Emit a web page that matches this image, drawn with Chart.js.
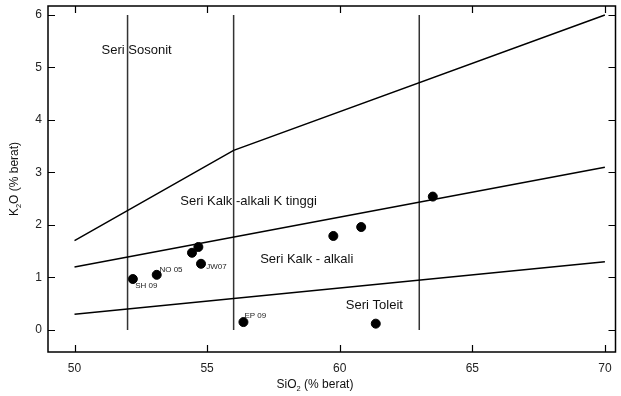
<!DOCTYPE html>
<html>
<head>
<meta charset="utf-8">
<script src="https://cdn.jsdelivr.net/npm/chart.js@4"></script>
<style>
  body { margin: 0; background: #fff; }
  #wrap { width: 621px; height: 396px; }
</style>
</head>
<body>
<div id="wrap"><canvas id="myChart"></canvas></div>
<script>
// samples
const sio2 = [52.2, 53.1, 54.43, 54.67, 54.77, 56.37, 59.76, 60.81, 63.51, 61.36]
const k2o = [0.97, 1.05, 1.47, 1.58, 1.26, 0.15, 1.79, 1.96, 2.54, 0.12]
const sampleNames = ['SH 09', 'NO 05', '', '', 'JW07', 'EP 09', '', '', '', '']

// series boundaries
const shoshX = [50, 56, 70]
const shoshY = [1.7, 3.42, 6.0]
const highKX = [50, 70]
const highKY = [1.2, 3.1]
const tholX = [50, 70]
const tholY = [0.3, 1.3]
const dividerX = [52, 56, 63]
const dividerY = [0, 6]

// ticks
const xTicks = [50, 55, 60, 65, 70]
const yTicks = [0, 1, 2, 3, 4, 5, 6]

// field names
const fieldNames = ['Seri Sosonit', 'Seri Kalk -alkali K tinggi', 'Seri Kalk - alkali', 'Seri Toleit']
const fieldX = [51.02, 53.99, 57.0, 60.23]
const fieldY = [5.26, 2.38, 1.28, 0.39]

// pixel offsets of sample names from their dot
const nameOffsets = { 'SH 09': [2.4, 9.3], 'NO 05': [2.7, -3], 'JW07': [5.3, 5.3], 'EP 09': [1, -4] }

const FONT = '"Liberation Sans", Arial, sans-serif'

function pts(xs, ys) {
    return xs.map((x, i) => ({ x: x, y: ys[i] }))
}

function lineSet(data, color) {
    return {
        type: 'scatter',
        data: data,
        showLine: true,
        borderColor: color,
        borderWidth: 1.5,
        pointRadius: 0,
        fill: false
    }
}

let datasets = [
    lineSet(pts(shoshX, shoshY), '#000'),
    lineSet(pts(highKX, highKY), '#000'),
    lineSet(pts(tholX, tholY), '#000')
]
dividerX.forEach(x => {
    datasets.push(lineSet(pts([x, x], dividerY), '#333'))
})
datasets.push({
    type: 'scatter',
    data: pts(sio2, k2o),
    backgroundColor: '#000',
    borderColor: '#000',
    pointRadius: 4.5,
    pointHoverRadius: 4.5
})

// text with a subscript "2"
function drawSub(ctx, parts, size, x, y) {
    let subSize = size * 0.62
    let w = 0
    parts.forEach(p => {
        ctx.font = (p.sub ? subSize : size) + 'px ' + FONT
        w += ctx.measureText(p.t).width
    })
    let cx = x - w / 2
    parts.forEach(p => {
        ctx.font = (p.sub ? subSize : size) + 'px ' + FONT
        ctx.fillText(p.t, cx, p.sub ? y + size * 0.25 : y)
        cx += ctx.measureText(p.t).width
    })
}

const frame = {
    id: 'frame',
    afterDraw(chart) {
        let ctx = chart.ctx
        let a = chart.chartArea
        let xs = chart.scales.x
        let ys = chart.scales.y
        ctx.save()
        ctx.strokeStyle = '#000'
        ctx.lineWidth = 1.5
        ctx.strokeRect(a.left, a.top, a.right - a.left, a.bottom - a.top)
        ctx.lineWidth = 1.2
        ctx.beginPath()
        xTicks.forEach(v => {
            let px = Math.round(xs.getPixelForValue(v)) + 0.5
            ctx.moveTo(px, a.bottom); ctx.lineTo(px, a.bottom - 7)
            ctx.moveTo(px, a.top); ctx.lineTo(px, a.top + 7)
        })
        yTicks.forEach(v => {
            let py = Math.round(ys.getPixelForValue(v)) + 0.5
            ctx.moveTo(a.left, py); ctx.lineTo(a.left + 7, py)
            ctx.moveTo(a.right, py); ctx.lineTo(a.right - 7, py)
        })
        ctx.stroke()

        ctx.fillStyle = '#111'
        ctx.textBaseline = 'alphabetic'
        ctx.textAlign = 'left'
        ctx.font = '13px ' + FONT
        fieldNames.forEach((t, i) => {
            ctx.fillText(t, xs.getPixelForValue(fieldX[i]), ys.getPixelForValue(fieldY[i]))
        })

        ctx.font = '8px ' + FONT
        ctx.fillStyle = '#222'
        sampleNames.forEach((t, i) => {
            if (!t) return
            let off = nameOffsets[t]
            ctx.fillText(t, xs.getPixelForValue(sio2[i]) + off[0], ys.getPixelForValue(k2o[i]) + off[1])
        })

        ctx.fillStyle = '#111'
        drawSub(ctx, [{ t: 'SiO' }, { t: '2', sub: true }, { t: ' (% berat)' }], 12, 315, 388)
        ctx.translate(18, (a.top + a.bottom) / 2)
        ctx.rotate(-Math.PI / 2)
        drawSub(ctx, [{ t: 'K' }, { t: '2', sub: true }, { t: 'O (% berat)' }], 12, 0, 0)
        ctx.restore()
    }
}

let ctx = document.querySelector('#myChart').getContext('2d')
let myChart = new Chart(ctx, {
    type: 'scatter',
    data: { datasets: datasets },
    options: {
        responsive: true,
        maintainAspectRatio: false,
        animation: false,
        layout: { padding: { top: 6, right: 4, left: 0, bottom: 0 } },
        plugins: {
            legend: { display: false },
            tooltip: { enabled: false }
        },
        scales: {
            x: {
                type: 'linear',
                min: 49,
                max: 70.4,
                afterBuildTicks: s => { s.ticks = xTicks.map(v => ({ value: v })) },
                afterFit: s => { s.height = 44; s.paddingLeft = 0; s.paddingRight = 0 },
                grid: { display: false, drawTicks: false },
                border: { display: false },
                ticks: { color: '#222', font: { family: FONT, size: 12 }, padding: 9, maxRotation: 0 }
            },
            y: {
                type: 'linear',
                min: -0.42,
                max: 6.17,
                afterBuildTicks: s => { s.ticks = yTicks.map(v => ({ value: v })) },
                afterFit: s => { s.width = 48; s.paddingTop = 0; s.paddingBottom = 0 },
                grid: { display: false, drawTicks: false },
                border: { display: false },
                ticks: { color: '#222', font: { family: FONT, size: 12 }, padding: 6 }
            }
        }
    },
    plugins: [frame]
})
</script>
</body>
</html>
